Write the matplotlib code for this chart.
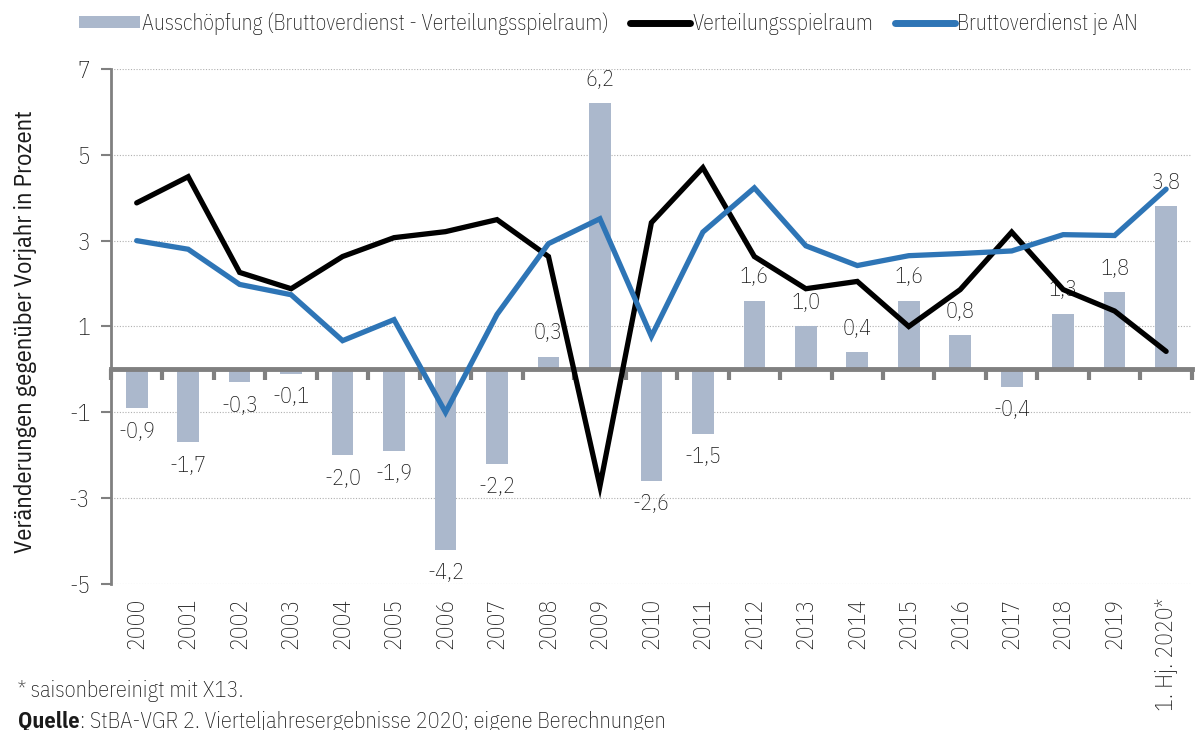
import numpy as np
import matplotlib
matplotlib.use("Agg")
import matplotlib.pyplot as plt
from matplotlib.lines import Line2D
from matplotlib.patches import Patch

plt.rcParams["font.family"] = ["IBM Plex Sans Condensed", "DejaVu Sans"]
plt.rcParams["font.weight"] = "light"

# ── Data ──────────────────────────────────────────────────────────────────────
years = ["2000", "2001", "2002", "2003", "2004", "2005", "2006", "2007",
         "2008", "2009", "2010", "2011", "2012", "2013", "2014", "2015",
         "2016", "2017", "2018", "2019", "1. Hj. 2020*"]

ausschoepfung = [-0.9, -1.7, -0.3, -0.1, -2.0, -1.9, -4.2, -2.2, 0.3, 6.2,
                 -2.6, -1.5, 1.6, 1.0, 0.4, 1.6, 0.8, -0.4, 1.3, 1.8, 3.8]

verteilungsspielraum = [3.88, 4.49, 2.26, 1.88, 2.63, 3.07, 3.21, 3.49, 2.63,
                        -2.72, 3.42, 4.70, 2.63, 1.88, 2.05, 1.00, 1.86, 3.20,
                        1.86, 1.36, 0.42]

bruttoverdienst = [3.00, 2.80, 1.98, 1.74, 0.67, 1.16, -1.00, 1.28, 2.93,
                   3.51, 0.77, 3.20, 4.23, 2.88, 2.42, 2.65, 2.70, 2.76,
                   3.14, 3.12, 4.20]

BAR_COLOR = "#abb8cc"
BLUE = "#2e75b6"
GRAY = "#808080"
TEXT = "#1a1a1a"

x = np.arange(len(years))

# ── Figure ────────────────────────────────────────────────────────────────────
fig = plt.figure(figsize=(11.97, 7.30), dpi=100, facecolor="white")
ax = fig.add_axes([0.0927, 0.2, 0.903, 0.7055])

bars = ax.bar(x, ausschoepfung, width=0.42, color=BAR_COLOR, zorder=2)
ax.bar_label(bars, labels=[f"{v:.1f}".replace(".", ",") for v in ausschoepfung],
             padding=9, fontsize=16, color=TEXT, zorder=3)

ax.plot(x, verteilungsspielraum, color="black", lw=3.8,
        solid_joinstyle="miter", solid_capstyle="round", zorder=4)
ax.plot(x, bruttoverdienst, color=BLUE, lw=3.8,
        solid_joinstyle="miter", solid_capstyle="round", zorder=5)

# y axis
ax.set_ylim(-5, 7)
ax.set_yticks(np.arange(-5, 8, 2))
ax.set_yticklabels([str(v) for v in range(-5, 8, 2)])
ax.yaxis.grid(True, linestyle=(0, (1, 1.5)), color="#b0b0b0", lw=0.8, zorder=0)
ax.tick_params(axis="y", length=7, width=1.5, color=GRAY, labelsize=17,
               labelcolor=TEXT, pad=8)
ax.spines["left"].set_color(GRAY)
ax.spines["left"].set_linewidth(2)
ax.spines["top"].set_visible(False)
ax.spines["right"].set_visible(False)

# x axis line at zero with boundary ticks
ax.spines["bottom"].set_position(("data", 0))
ax.spines["bottom"].set_color(GRAY)
ax.spines["bottom"].set_linewidth(3.5)
ax.set_xlim(-0.5, len(years) - 0.5)
ax.set_xticks(np.arange(len(years) + 1) - 0.5)
ax.set_xticklabels([])
ax.tick_params(axis="x", length=8, width=3, color=GRAY, direction="out")

# category labels at the bottom of the plot area
sec = ax.secondary_xaxis(0.0)
sec.set_xticks(x)
sec.set_xticklabels(years, rotation=90, fontsize=17, color=TEXT)
sec.tick_params(length=0, pad=10)
sec.spines["bottom"].set_visible(False)

ax.set_ylabel("Veränderungen gegenüber Vorjahr in Prozent", fontsize=17.5,
              color=TEXT)
ax.yaxis.set_label_coords(-0.068, 0.49)

# ── Legend ────────────────────────────────────────────────────────────────────
handles = [
    Patch(facecolor=BAR_COLOR, edgecolor="none"),
    Line2D([0], [0], color="black", lw=5, solid_capstyle="round"),
    Line2D([0], [0], color=BLUE, lw=5, solid_capstyle="round"),
]
labels = ["Ausschöpfung (Bruttoverdienst - Verteilungsspielraum)",
          "Verteilungsspielraum", "Bruttoverdienst je AN"]
leg = fig.legend(handles, labels, loc="upper left", bbox_to_anchor=(0.05, 1.01),
                 ncol=3, frameon=False, fontsize=15.5, handlelength=2.8,
                 handleheight=0.5, handletextpad=0.1, columnspacing=1.0)
for t in leg.get_texts():
    t.set_color(TEXT)

# ── Footnotes ─────────────────────────────────────────────────────────────────
fig.text(0.015, 1 - 691 / 730, "* saisonbereinigt mit X13.", fontsize=16,
         va="center", ha="left", color=TEXT)
q = fig.text(0.015, 1 - 722 / 730, "Quelle", fontsize=16, fontweight="bold",
             va="center", ha="left", color=TEXT)
ax.annotate(": StBA-VGR 2. Vierteljahresergebnisse 2020; eigene Berechnungen",
            xy=(1, 0.5), xycoords=q, va="center", ha="left", fontsize=16,
            color=TEXT, annotation_clip=False)

fig.savefig("out.png", dpi=100, facecolor="white")
